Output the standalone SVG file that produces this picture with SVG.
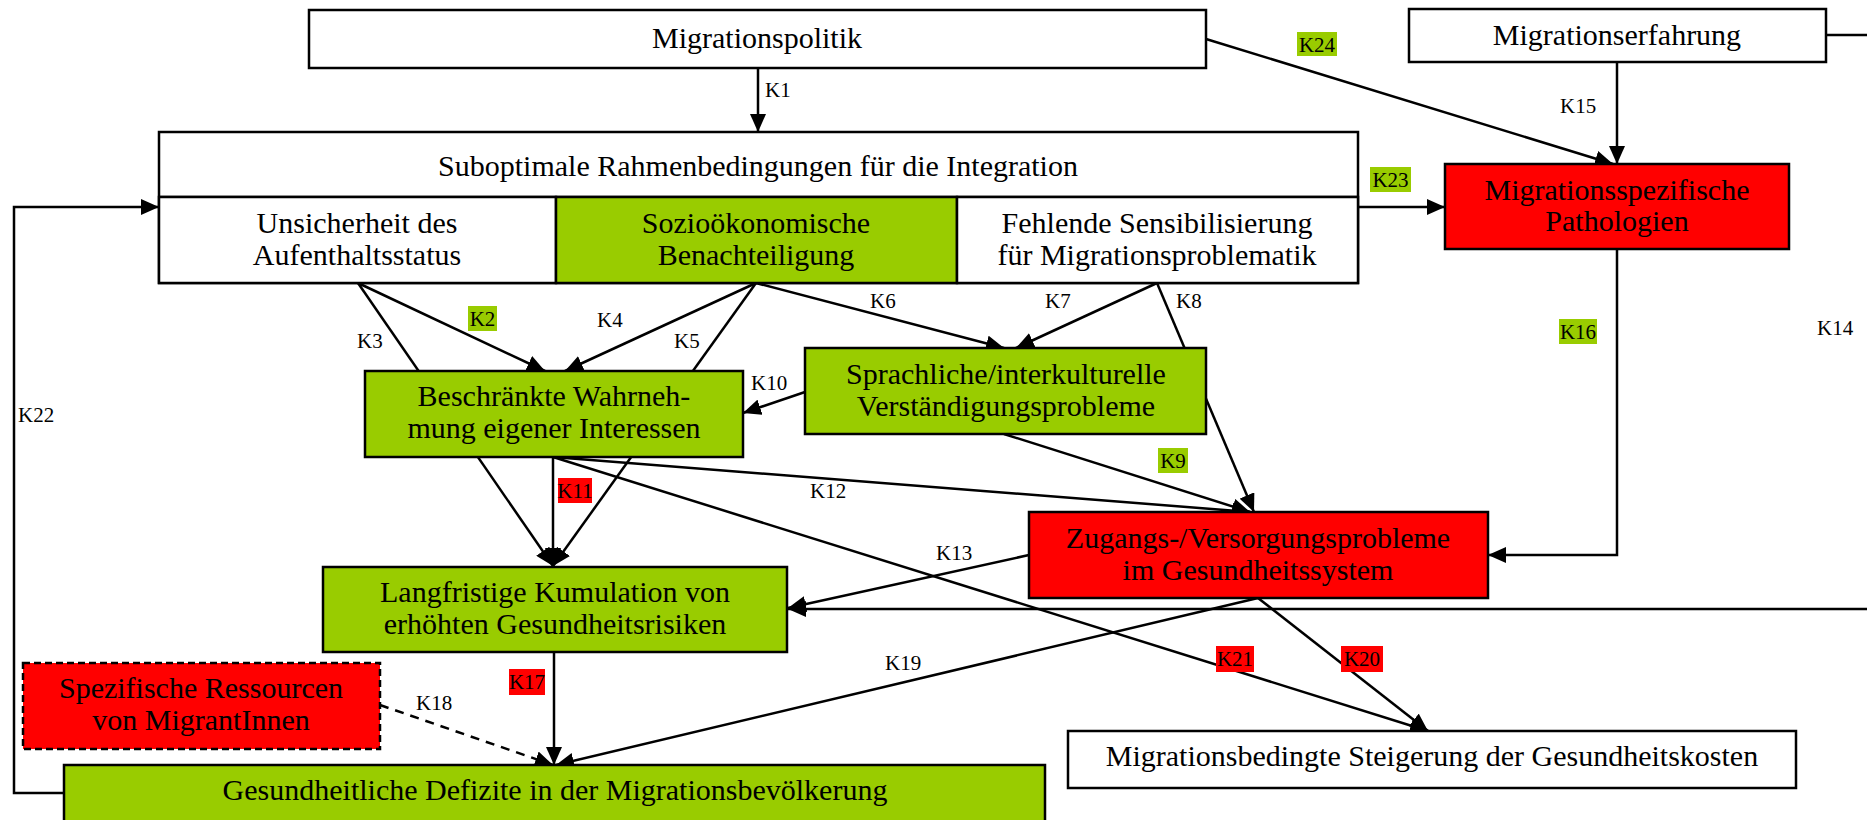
<svg xmlns="http://www.w3.org/2000/svg" width="1867" height="820" viewBox="0 0 1867 820">
<style>
.box{stroke:#000;stroke-width:2.5}
.w{fill:#fff}.g{fill:#99CC00}.r{fill:#FF0000}
.t{font-family:"Liberation Serif",serif;font-size:30px;fill:#000;text-anchor:middle}
.l{font-family:"Liberation Serif",serif;font-size:21px;fill:#000}
.lm{font-family:"Liberation Serif",serif;font-size:21px;fill:#000;text-anchor:middle}
.c{fill:none;stroke:#000;stroke-width:2.5}
</style>
<defs>
<marker id="a" markerUnits="userSpaceOnUse" markerWidth="20" markerHeight="16" refX="18" refY="8" orient="auto"><path d="M0,0 L18,8 L0,16 z" fill="#000"/></marker>
</defs>
<rect width="1867" height="820" fill="#fff"/>
<g id="connectors">
<path class="c" d="M758,68 V132" marker-end="url(#a)"/>
<path class="c" d="M1206,39 L1613,164" marker-end="url(#a)"/>
<path class="c" d="M1617,62 V164" marker-end="url(#a)"/>
<path class="c" d="M1358,207 H1445" marker-end="url(#a)"/>
<path class="c" d="M1617,249 V555 H1488" marker-end="url(#a)"/>
<path class="c" d="M1826,35 H1880 V609 H788" marker-end="url(#a)"/>
<path class="c" d="M64,793 H14 V207 H159" marker-end="url(#a)"/>
<path class="c" d="M358,283 L545,371" marker-end="url(#a)"/>
<path class="c" d="M358,283 L553,566" marker-end="url(#a)"/>
<path class="c" d="M756,283 L565,371" marker-end="url(#a)"/>
<path class="c" d="M756,283 L553,566" marker-end="url(#a)"/>
<path class="c" d="M756,283 L1004,348" marker-end="url(#a)"/>
<path class="c" d="M1157,283 L1016,348" marker-end="url(#a)"/>
<path class="c" d="M1157,283 L1254,512" marker-end="url(#a)"/>
<path class="c" d="M1004,434 L1250,512" marker-end="url(#a)"/>
<path class="c" d="M805,392 L743,413" marker-end="url(#a)"/>
<path class="c" d="M553,457 V566" marker-end="url(#a)"/>
<path class="c" d="M553,457 L1250,512" marker-end="url(#a)"/>
<path class="c" d="M1029,555 L788,608" marker-end="url(#a)"/>
<path class="c" d="M554,652 V765" marker-end="url(#a)"/>
<path class="c" d="M380,705 L553,765" stroke-dasharray="9,7" marker-end="url(#a)"/>
<path class="c" d="M1258,598 L556,765" marker-end="url(#a)"/>
<path class="c" d="M1258,598 L1428,731" marker-end="url(#a)"/>
<path class="c" d="M553,457 L1428,731" marker-end="url(#a)"/>
</g>
<g id="labels">
<text class="l" x="765" y="97">K1</text>
<rect x="1297" y="32" width="40" height="24" class="g"/><text class="lm" x="1317" y="52">K24</text>
<text class="l" x="1560" y="113">K15</text>
<rect x="1370" y="167" width="41" height="25" class="g"/><text class="lm" x="1390.5" y="187">K23</text>
<rect x="1559" y="319" width="38" height="25" class="g"/><text class="lm" x="1578" y="339">K16</text>
<text class="l" x="1817" y="335">K14</text>
<text class="l" x="18" y="422">K22</text>
<rect x="468" y="306" width="29" height="25" class="g"/><text class="lm" x="482.5" y="326">K2</text>
<text class="l" x="357" y="348">K3</text>
<text class="l" x="597" y="327">K4</text>
<text class="l" x="674" y="348">K5</text>
<text class="l" x="870" y="308">K6</text>
<text class="l" x="1045" y="308">K7</text>
<text class="l" x="1176" y="308">K8</text>
<text class="l" x="751" y="390">K10</text>
<rect x="1158" y="448" width="30" height="25" class="g"/><text class="lm" x="1173" y="468">K9</text>
<rect x="558" y="478" width="34" height="25" class="r"/><text class="lm" x="575" y="498">K11</text>
<text class="l" x="810" y="498">K12</text>
<text class="l" x="936" y="560">K13</text>
<rect x="509" y="669" width="36" height="26" class="r"/><text class="lm" x="527" y="689">K17</text>
<text class="l" x="416" y="710">K18</text>
<text class="l" x="885" y="670">K19</text>
<rect x="1341" y="646" width="42" height="26" class="r"/><text class="lm" x="1362" y="666">K20</text>
<rect x="1216" y="646" width="38" height="26" class="r"/><text class="lm" x="1235" y="666">K21</text>
</g>
<g id="migrationspolitik"><rect x="309" y="10" width="897" height="58" class="box w"/><text class="t" x="757" y="48">Migrationspolitik</text></g>
<g id="migrationserfahrung"><rect x="1409" y="9" width="417" height="53" class="box w"/><text class="t" x="1617" y="45">Migrationserfahrung</text></g>
<g id="rahmenbedingungen">
<rect x="159" y="132" width="1199" height="151" class="box w"/>
<line x1="159" y1="197" x2="1358" y2="197" class="box"/>
<text class="t" x="758" y="176">Suboptimale Rahmenbedingungen für die Integration</text>
</g>
<g id="unsicherheit"><rect x="159" y="197" width="397" height="86" class="box w"/><text class="t" x="357" y="233">Unsicherheit des</text><text class="t" x="357" y="265">Aufenthaltsstatus</text></g>
<g id="sozio"><rect x="556" y="197" width="401" height="86" class="box g"/><text class="t" x="756" y="233">Sozioökonomische</text><text class="t" x="756" y="265">Benachteiligung</text></g>
<g id="fehlende"><rect x="957" y="197" width="401" height="86" class="box w"/><text class="t" x="1157" y="233">Fehlende Sensibilisierung</text><text class="t" x="1157" y="265">für Migrationsproblematik</text></g>
<g id="pathologien"><rect x="1445" y="164" width="344" height="85" class="box r"/><text class="t" x="1617" y="200">Migrationsspezifische</text><text class="t" x="1617" y="231">Pathologien</text></g>
<g id="beschraenkte"><rect x="365" y="371" width="378" height="86" class="box g"/><text class="t" x="554" y="406">Beschränkte Wahrneh-</text><text class="t" x="554" y="438">mung eigener Interessen</text></g>
<g id="sprachliche"><rect x="805" y="348" width="401" height="86" class="box g"/><text class="t" x="1006" y="384">Sprachliche/interkulturelle</text><text class="t" x="1006" y="416">Verständigungsprobleme</text></g>
<g id="zugangs"><rect x="1029" y="512" width="459" height="86" class="box r"/><text class="t" x="1258" y="548">Zugangs-/Versorgungsprobleme</text><text class="t" x="1258" y="580">im Gesundheitssystem</text></g>
<g id="langfristige"><rect x="323" y="567" width="464" height="85" class="box g"/><text class="t" x="555" y="602">Langfristige Kumulation von</text><text class="t" x="555" y="634">erhöhten Gesundheitsrisiken</text></g>
<g id="ressourcen"><rect x="23" y="663" width="357" height="86" class="box r" stroke-dasharray="7,4"/><text class="t" x="201" y="698">Spezifische Ressourcen</text><text class="t" x="201" y="730">von MigrantInnen</text></g>
<g id="kosten"><rect x="1068" y="731" width="728" height="57" class="box w"/><text class="t" x="1432" y="766">Migrationsbedingte Steigerung der Gesundheitskosten</text></g>
<g id="defizite"><rect x="64" y="765" width="981" height="70" class="box g"/><text class="t" x="555" y="800">Gesundheitliche Defizite in der Migrationsbevölkerung</text></g>
</svg>
